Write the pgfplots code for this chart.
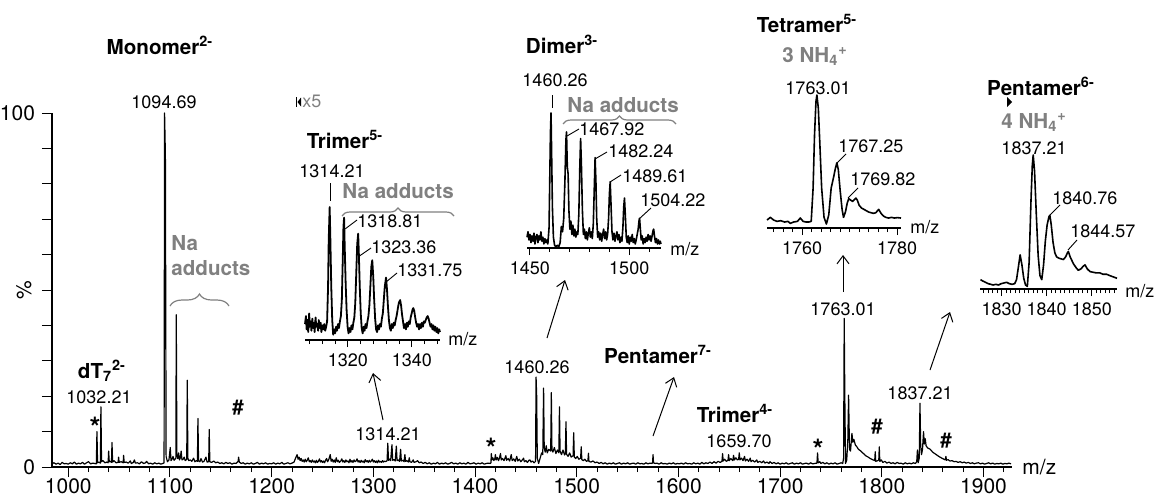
\documentclass[border=0pt]{standalone}
\usepackage{pgfplots}
\pgfplotsset{compat=1.18}
\usepackage{fontspec}
\setmainfont{TeX Gyre Heros}
\usetikzlibrary{decorations.pathreplacing,arrows.meta}
\definecolor{gtxt}{RGB}{128,128,128}
\tikzset{
 num/.style={font=\fontsize{9}{10}\selectfont, inner sep=0pt},
 bl/.style={font=\fontsize{10.3}{12}\selectfont\bfseries, inner sep=0pt},
 gl/.style={bl, text=gtxt},
 star/.style={font=\fontsize{14}{16}\selectfont\bfseries, inner sep=0pt, anchor=base},
 hash/.style={font=\fontsize{10.3}{12}\selectfont\bfseries, inner sep=0pt, anchor=base},
 arr/.style={line width=0.5pt, -{Straight Barb[length=4pt,width=6pt]}},
 lead/.style={line width=0.45pt},
}
\pgfplotsset{
 inset/.style={scale only axis, anchor=south west, ymin=0, ymax=100,
   axis x line=bottom, axis y line=none, axis line style={-, line width=0.6pt},
   clip=false, tick align=outside, major tick length=3.5pt, minor tick length=2pt,
   tick style={black, line width=0.5pt},
   tick label style={font=\fontsize{9}{10}\selectfont},
   /pgf/number format/assume math mode=true, /pgf/number format/1000 sep={}},
}
\begin{document}
\begin{tikzpicture}
% ---------------- main spectrum ----------------
\begin{axis}[at={(26pt,-233.5pt)}, anchor=south west, scale only axis,
  width=480pt, height=177pt, xmin=984, xmax=1928, ymin=0, ymax=100,
  axis x line=bottom, axis y line=left, axis line style={-, line width=0.6pt},
  clip=false, tick align=outside,
  xtick={1000,1100,...,1900}, minor xtick={980,1000,...,1920},
  ytick={0,10,...,100}, yticklabels={0,,,,,,,,,,100},
  major tick length=5pt, minor tick length=2.5pt,
  tick style={black, line width=0.5pt},
  tick label style={font=\fontsize{10.5}{12}\selectfont},
  xticklabel style={yshift=2.5pt},
  /pgf/number format/assume math mode=true, /pgf/number format/1000 sep={}]
\addplot[black, line width=0.6pt, line join=round] coordinates {
(984,0.9)(986,1.2)(988,0.8)(990,1.1)(992,0.7)(994,1.3)(996,0.9)(998,1.0)(1000,0.8)(1002,1.2)
(1004,0.9)(1006,1.4)(1008,0.8)(1010,1.1)(1012,0.9)(1014,1.3)(1016,0.8)(1018,1.2)(1020,1.5)(1022,0.9)
(1024,1.1)(1026,1.0)(1027.6,0.9)(1028.2,10)(1028.8,1.2)(1030,1.4)(1031.6,1.1)(1032.1,17)(1032.7,1.5)(1034,1.8)
(1036,1.2)(1038,1.4)(1039.2,1.2)(1039.7,4.5)(1040.3,1.5)(1041.5,1.6)(1042.5,1.3)(1043,6.9)(1043.6,1.4)(1045,1.8)
(1047,1.2)(1049,1.3)(1049.5,2.8)(1050,1.3)(1052,1.5)(1054,1.2)(1054.4,3.3)(1055,1.3)(1057,1.4)(1059,1.1)
(1061,1.7)(1062,1.0)(1064,1.3)(1065,2.0)(1066,1.1)(1068,1.2)(1070,0.9)(1072,1.5)(1074,1.0)(1076,1.2)
(1077,1.6)(1079,0.9)(1081,1.1)(1083,0.8)(1085,1.2)(1087,0.9)(1089,1.1)(1091,0.8)(1093,1.0)(1094.2,1.2)
(1094.7,100)(1095.5,88)(1096.2,3)(1097.5,1.5)(1099,2.0)(1100.3,5.5)(1101,1.8)(1102,2.2)(1103,3.0)(1104,1.9)
(1105.8,2.5)(1106.2,43)(1106.8,3.5)(1107.6,2.4)(1108.5,4.0)(1109.3,2.0)(1110.2,2.6)(1111,4.5)(1111.8,2.0)(1113,2.2)
(1114,2.8)(1115,1.8)(1116.5,2.2)(1117,24.5)(1117.6,2.5)(1118.5,1.8)(1120,2.0)(1121.5,1.6)(1123.2,2.5)(1124.5,1.5)
(1126,1.8)(1127,1.6)(1127.5,13.7)(1128.1,1.7)(1129.5,1.5)(1130.5,2.4)(1132,1.4)(1133.5,1.6)(1135.4,2.8)(1136.5,1.4)
(1138.1,1.5)(1138.6,10.6)(1139.2,1.5)(1141,1.3)(1143,1.7)(1145,1.2)(1147,1.4)(1149,1.0)(1151,1.2)(1153,0.9)
(1155,1.3)(1157,1.0)(1159,1.2)(1161,0.8)(1163,1.1)(1165,1.0)(1167,1.6)(1167.5,2.8)(1168.2,1.4)(1170,1.0)
(1172,1.2)(1174,0.8)(1176,1.1)(1178,0.9)(1180,1.2)(1182,0.8)(1184,1.0)(1186,1.3)(1188,0.8)(1190,1.1)
(1192,0.9)(1194,1.2)(1196,0.8)(1198,1.0)(1200,0.9)(1202,1.2)(1204,0.8)(1206,1.1)(1208,0.9)(1210,1.3)
(1212,0.8)(1214,1.0)(1216,1.2)(1218,0.9)(1220,1.1)(1222,1.4)(1223.5,2.5)(1225,3.5)(1226,2.2)(1227,2.8)
(1228,1.8)(1229,2.4)(1230,1.6)(1231,2.0)(1232,1.4)(1233,2.2)(1234,1.5)(1235,1.9)(1236,2.6)(1237,1.5)
(1238,1.8)(1239,1.3)(1240,2.0)(1241,1.4)(1242,1.7)(1243,1.2)(1244,1.9)(1245,1.3)(1246,1.6)(1247,2.3)
(1248,1.4)(1249,1.8)(1250,1.3)(1251,1.7)(1252,1.2)(1253,1.9)(1254,2.4)(1255,1.5)(1256,2.0)(1257.6,3.5)
(1258.5,1.6)(1259.5,2.2)(1260.5,1.4)(1261.5,2.0)(1262.5,1.3)(1263.5,2.6)(1264.5,1.5)(1265.5,1.9)(1266.5,1.3)(1268,1.7)
(1269,2.3)(1270,1.4)(1271,1.8)(1272,1.3)(1273,2.0)(1274,1.5)(1275,1.7)(1276,1.2)(1277,2.2)(1278,1.4)
(1279,1.8)(1280,1.3)(1281,2.0)(1282,1.5)(1283,1.7)(1284,2.3)(1285,1.4)(1286,1.8)(1287,1.3)(1288,1.9)
(1289,1.4)(1290,1.7)(1291,1.2)(1292,2.1)(1293,1.5)(1294,1.8)(1295,1.3)(1296,1.9)(1297,1.4)(1298,1.7)
(1299,2.2)(1300,1.4)(1301,1.8)(1302,1.3)(1303,1.7)(1304,1.2)(1305,1.9)(1306,1.4)(1307,1.6)(1308,1.3)
(1309,1.8)(1310,1.4)(1311,1.7)(1312,1.5)(1313.5,1.8)(1314.2,6.7)(1314.9,1.9)(1316,2.2)(1317,1.8)(1318.3,6.3)
(1319,1.9)(1320.5,2.1)(1321.5,1.7)(1322.6,5.9)(1323.3,1.8)(1324.5,2.0)(1325.8,1.6)(1326.8,5.0)(1327.5,1.7)(1329,1.9)
(1330.2,1.5)(1331,3.5)(1331.7,1.6)(1333,1.8)(1334.5,1.4)(1335.3,2.6)(1336,1.5)(1337.5,1.3)(1339.2,2.0)(1340,1.3)
(1342,1.5)(1343.5,1.8)(1345,1.2)(1347,1.4)(1349,1.0)(1351,1.3)(1353,0.9)(1355,1.2)(1357,0.8)(1359,1.1)
(1361,0.9)(1363,1.3)(1365,0.8)(1367,1.1)(1369,0.9)(1371,1.2)(1373,0.8)(1375,1.0)(1377,1.3)(1379,0.9)
(1381,1.1)(1383,0.8)(1385,1.2)(1387,0.9)(1389,1.1)(1391,0.8)(1393,1.3)(1395,0.9)(1397,1.0)(1399,1.2)
(1401,0.8)(1403,1.1)(1405,0.9)(1407,1.2)(1409,0.8)(1411,1.0)(1413,1.1)(1415,1.0)(1415.6,1.2)(1416,3.8)
(1416.6,2.0)(1417.5,2.6)(1418.5,1.8)(1419.5,2.4)(1420,3.5)(1420.7,2.0)(1422,2.7)(1423,1.8)(1424,2.5)(1425,3.8)
(1425.8,2.0)(1427,2.4)(1428.5,1.8)(1429.5,2.6)(1430.3,3.2)(1431,1.9)(1432.5,2.4)(1434,1.7)(1435.6,3.5)(1436.5,1.8)
(1438,2.3)(1439.5,1.6)(1441,3.0)(1442,1.7)(1443.5,2.2)(1445,1.5)(1446.5,2.0)(1447.7,2.5)(1448.5,1.5)(1450,1.8)
(1451.5,1.3)(1453,1.9)(1454,2.0)(1455,1.4)(1456.5,1.7)(1458,1.2)(1459.5,1.6)(1460,25.4)(1460.6,20)(1461.2,2.5)
(1462.5,1.0)(1464,2.5)(1465.5,4.0)(1466.6,3.5)(1467.4,22.3)(1468,5.5)(1469,4.2)(1470,6.0)(1471,4.0)(1472.5,5.0)
(1474.4,4.5)(1475,21)(1475.6,5.0)(1476.5,4.2)(1478,5.5)(1479.5,3.8)(1481,4.8)(1482.4,4.0)(1483,17)(1483.6,4.5)
(1485,3.5)(1486.5,4.8)(1488,3.4)(1488.8,3.8)(1489.4,12.8)(1490,3.6)(1491.5,3.0)(1493,4.0)(1494.5,2.8)(1496.4,3.2)
(1497,9.7)(1497.6,2.8)(1499,2.4)(1500.5,3.0)(1502,2.2)(1503.8,2.5)(1504.4,5.7)(1505,2.1)(1506.5,1.8)(1508,2.2)
(1509.5,1.6)(1511,1.8)(1511.5,3.9)(1512,1.6)(1514,1.4)(1516,1.7)(1518,1.2)(1520,1.4)(1522,1.0)(1524,1.3)
(1526,0.9)(1528,1.2)(1530,0.8)(1532,1.1)(1534,0.9)(1536,1.2)(1538,0.8)(1540,1.0)(1542,1.2)(1544,0.8)
(1546,1.1)(1548,0.9)(1550,1.2)(1552,0.8)(1554,1.0)(1556,1.1)(1558,0.8)(1560,1.2)(1562,0.9)(1564,1.0)
(1566,0.8)(1568,1.2)(1570,0.9)(1572,1.1)(1574,1.0)(1574.6,1.3)(1575,3.5)(1575.5,1.2)(1577,1.0)(1579,1.1)
(1581,0.8)(1583,1.2)(1585,0.9)(1587,1.0)(1589,0.8)(1591,1.1)(1593,0.9)(1595,1.2)(1597,0.8)(1599,1.0)
(1601,0.9)(1603,1.1)(1605,0.8)(1607,1.2)(1609,0.9)(1611,1.0)(1613,0.8)(1615,1.2)(1617,0.9)(1619,1.1)
(1621,0.8)(1623,1.3)(1625,0.9)(1627,1.2)(1629,1.0)(1631,1.4)(1633,1.0)(1635,1.5)(1637,1.1)(1639,1.6)
(1641,1.3)(1642.8,1.6)(1643.4,3.8)(1644,1.7)(1645.5,2.2)(1647,1.6)(1648.7,1.9)(1649.3,3.5)(1650,1.8)(1651.5,2.4)
(1653.5,1.8)(1654.2,3.3)(1655,2.0)(1656.5,2.6)(1658,2.0)(1659.2,2.2)(1659.8,4.0)(1660.5,2.0)(1662,2.5)(1663.5,1.8)
(1665,3.0)(1665.8,1.7)(1667.5,2.2)(1669,1.6)(1670.6,2.5)(1671.4,1.5)(1673,1.9)(1675,1.4)(1677,2.0)(1678,1.3)
(1680,1.6)(1682,1.2)(1683.7,1.7)(1685,1.1)(1687,1.4)(1689,1.0)(1690,1.5)(1692,1.0)(1694,1.3)(1696,0.9)
(1698,1.2)(1700,0.8)(1702,1.1)(1704,0.9)(1706,1.2)(1708,0.8)(1710,1.0)(1712,1.2)(1714,0.8)(1716,1.1)
(1718,0.9)(1720,1.2)(1722,0.8)(1724,1.0)(1726,1.1)(1728,0.8)(1730,1.2)(1732,0.9)(1734,1.0)(1736.2,1.1)
(1736.8,4.0)(1737.4,1.2)(1739,1.5)(1740,1.0)(1742,1.3)(1744,0.9)(1746,1.2)(1748,0.8)(1750,1.1)(1752,0.9)
(1754,1.2)(1756,0.8)(1758,1.0)(1760,1.2)(1761.5,1.0)(1762.4,2.5)(1763,42)(1763.6,20)(1764.3,1.0)(1765.5,2.0)
(1766.6,8.0)(1767.3,20.3)(1768.2,5.0)(1769.2,4.5)(1770.6,9.5)(1771.5,7.0)(1772.5,7.8)(1774,6.2)(1775.5,5.7)(1777,5.0)
(1779,4.6)(1781,4.0)(1782,3.8)(1784,3.2)(1786,2.9)(1788.6,2.4)(1790,2.2)(1791.5,2.0)(1793,1.8)(1793.5,4.3)
(1794,1.6)(1796,1.8)(1797,2.0)(1797.5,5.7)(1798,1.6)(1799.5,2.0)(1801,1.3)(1803,1.6)(1805,1.1)(1807,1.4)
(1809,1.0)(1811,1.2)(1813,0.9)(1815,1.3)(1817,1.0)(1819,1.1)(1821,0.8)(1823,1.2)(1825,0.9)(1827,1.1)
(1829,0.9)(1831,1.2)(1833,1.0)(1834.3,1.5)(1835,4.8)(1835.7,1.2)(1836.8,2.5)(1837.5,18)(1838.2,6.0)(1839,3.5)
(1840,5.0)(1841,10)(1841.8,6.5)(1842.7,8.0)(1843.5,6.0)(1845,5.4)(1847.6,5.0)(1850,4.2)(1852,3.8)(1854,3.4)
(1856,3.0)(1859,2.5)(1861,2.2)(1862.5,2.0)(1863,3.0)(1863.6,1.9)(1865,2.1)(1867,1.7)(1869,1.8)(1871,1.5)
(1873,1.6)(1875,1.3)(1877,1.5)(1879,1.2)(1881,1.4)(1883,1.1)(1885,1.3)(1887,1.0)(1889,1.2)(1891,0.9)
(1893,1.1)(1895,1.2)(1897,0.9)(1899,1.1)(1901,0.8)(1903,1.0)(1905,1.2)(1907,0.9)(1909,1.1)(1911,0.8)
(1913,1.0)(1915,0.9)(1917,1.1)(1919,0.8)(1921,1.0)(1923,0.9)(1925,1.1)(1927,0.9)
};
\end{axis}
% ---------------- inset: Trimer 5- ----------------
\begin{axis}[inset, at={(152.5pt,-170pt)}, width=67.5pt, height=66.5pt,
  xmin=1306.6, xmax=1348.75, xtick={1320,1340}, minor xtick={1308,1312,...,1348}]
\addplot[black, line width=0.9pt, line join=round] coordinates {
(1306.6,12)(1306.9,18)(1307.1,8)(1307.4,15)(1307.6,6)(1307.9,20)(1308.1,10)(1308.4,14)(1308.6,7)(1308.9,16)
(1309.1,9)(1309.4,13)(1309.6,6)(1309.9,17)(1310.1,10)(1310.4,12)(1310.7,7)(1310.9,15)(1311.2,9)(1311.5,13)
(1311.7,6)(1312,11)(1312.3,8)(1312.6,12)(1312.9,7)(1313.2,10)(1313.5,14)(1313.8,40)(1314.0,75)(1314.3,100)
(1314.5,78)(1314.8,40)(1315.1,15)(1315.4,4)(1315.7,8)(1316,5)(1316.3,10)(1316.6,7)(1316.9,12)(1317.2,9)
(1317.5,14)(1317.8,18)(1318.1,30)(1318.4,62)(1318.6,85)(1318.8,92)(1319.0,70)(1319.3,42)(1319.6,22)(1319.9,10)
(1320.2,5)(1320.5,9)(1320.8,6)(1321.1,11)(1321.4,8)(1321.7,13)(1322.0,17)(1322.3,28)(1322.6,50)(1322.9,72)
(1323.2,80)(1323.4,66)(1323.7,40)(1324,20)(1324.3,9)(1324.6,5)(1324.9,10)(1325.2,7)(1325.5,12)(1325.8,9)
(1326.1,14)(1326.4,18)(1326.7,26)(1327,40)(1327.3,55)(1327.6,60)(1327.9,48)(1328.2,30)(1328.5,16)(1328.8,8)
(1329.1,6)(1329.4,11)(1329.7,8)(1330,12)(1330.3,10)(1330.6,16)(1330.9,20)(1331.2,30)(1331.5,40)(1331.9,47)
(1332.2,38)(1332.5,25)(1332.8,15)(1333.1,9)(1333.4,7)(1333.7,12)(1334,9)(1334.3,13)(1334.6,11)(1334.9,15)
(1335.2,18)(1335.6,24)(1335.9,28)(1336.3,30)(1336.6,26)(1336.9,19)(1337.2,14)(1337.5,9)(1337.8,12)(1338.1,8)
(1338.4,13)(1338.7,10)(1339,14)(1339.3,12)(1339.6,17)(1339.9,20)(1340.2,23)(1340.4,24)(1340.7,22)(1341,17)
(1341.3,13)(1341.6,10)(1341.9,12)(1342.2,8)(1342.5,12)(1342.8,9)(1343.1,13)(1343.4,10)(1343.7,14)(1344,13)
(1344.3,15)(1344.6,17)(1344.9,18)(1345.2,16)(1345.5,13)(1345.8,10)(1346.1,12)(1346.4,8)(1346.7,11)(1347,7)
(1347.3,10)(1347.6,6)(1347.9,9)(1348.2,5)(1348.5,8)(1348.75,6)
};
\end{axis}
% ---------------- inset: Dimer 3- ----------------
\begin{axis}[inset, at={(263.5pt,-124pt)}, width=67pt, height=67.5pt,
  xmin=1448.5, xmax=1516, xtick={1450,1500}, minor xtick={1450,1460,...,1510}]
\addplot[black, line width=0.8pt, line join=round] coordinates {
(1448.5,8)(1449,12)(1449.5,6)(1450,10)(1450.5,4)(1451,9)(1451.5,5)(1452,11)(1452.5,3)(1453,8)
(1453.5,10)(1454,4)(1454.5,9)(1455,6)(1455.5,12)(1456,5)(1456.5,8)(1457,3)(1457.5,7)(1458,4)
(1458.5,6)(1459,3)(1459.6,15)(1460,55)(1460.3,85)(1460.6,100)(1460.9,70)(1461.3,30)(1461.8,8)(1462.4,2)
(1463,1)(1463.8,2)(1464.5,1)(1465.2,4)(1465.8,16)(1466.4,12)(1467,22)(1467.6,50)(1468.1,80)(1468.4,86)
(1468.8,60)(1469.2,55)(1469.6,28)(1470.1,14)(1470.6,20)(1471.1,10)(1471.6,17)(1472.1,9)(1472.6,14)(1473.1,8)
(1473.6,12)(1474.1,10)(1474.6,25)(1475.1,60)(1475.5,81)(1475.9,62)(1476.4,28)(1476.9,10)(1477.4,14)(1477.9,7)
(1478.4,12)(1478.9,6)(1479.4,11)(1479.9,15)(1480.4,8)(1480.9,12)(1481.4,7)(1481.9,18)(1482.4,45)(1482.8,67)
(1483.2,50)(1483.6,22)(1484.1,8)(1484.6,12)(1485.1,6)(1485.6,11)(1486.1,5)(1486.6,10)(1487.1,14)(1487.6,7)
(1488.1,12)(1488.6,6)(1489.1,10)(1489.6,22)(1490,40)(1490.4,49)(1490.8,33)(1491.3,12)(1491.8,6)(1492.3,11)
(1492.8,5)(1493.3,9)(1493.8,12)(1494.3,6)(1494.8,10)(1495.3,4)(1495.8,8)(1496.3,5)(1496.8,15)(1497.2,30)
(1497.6,37)(1498,25)(1498.5,8)(1499,4)(1499.5,9)(1500,3)(1500.5,8)(1501,5)(1501.5,10)(1502,4)
(1502.5,7)(1503,3)(1503.5,6)(1504,10)(1504.5,14)(1504.9,20)(1505.2,22)(1505.6,14)(1506,6)(1506.5,9)
(1507,3)(1507.5,7)(1508,4)(1508.5,8)(1509,5)(1509.5,10)(1510,6)(1510.5,9)(1511,5)(1511.5,9)
(1512,13)(1512.3,14)(1512.7,9)(1513.2,4)(1513.7,7)(1514.2,3)(1514.7,6)(1515.2,3)(1515.6,5)(1516,3)
};
\end{axis}
% ---------------- inset: Tetramer 5- ----------------
\begin{axis}[inset, at={(383.5pt,-114pt)}, width=67pt, height=66.5pt,
  xmin=1752.6, xmax=1780.8, xtick={1760,1780}, minor xtick={1754,1756,...,1780}]
\addplot[black, line width=0.8pt, line join=round] coordinates {
(1752.6,6)(1753.3,8)(1754,6)(1754.7,5)(1755.5,5.5)(1756.3,4.5)(1757,5)(1757.5,3.5)(1758.2,4.5)(1759,5)
(1759.6,7.5)(1760.2,5)(1760.8,4.5)(1761.4,4.5)(1761.9,5)(1762.3,30)(1762.6,70)(1762.9,95)(1763.1,100)(1763.4,90)
(1763.7,65)(1764.1,30)(1764.6,8)(1765.1,3)(1765.6,10)(1766.1,30)(1766.6,38)(1767,45)(1767.3,49)(1767.6,44)
(1768,28)(1768.4,14)(1768.7,8)(1769.1,12)(1769.5,19)(1769.8,22)(1770.2,21)(1770.6,20)(1770.9,21)(1771.3,22.5)
(1771.6,21)(1772,17)(1772.5,15)(1773,14)(1773.5,13)(1774,12)(1774.5,11.5)(1775,11)(1775.5,11.5)(1776.1,14)
(1776.6,11)(1777.1,9)(1777.6,8)(1778.2,7.5)(1778.8,8)(1779.4,7.5)(1780,7.8)(1780.8,7.5)
};
\end{axis}
% ---------------- inset: Pentamer 6- ----------------
\begin{axis}[inset, at={(490pt,-144.5pt)}, width=68.5pt, height=67pt,
  xmin=1825.2, xmax=1855.6, xtick={1830,1840,1850}, minor xtick={1826,1827,...,1855}]
\addplot[black, line width=0.8pt, line join=round] coordinates {
(1825.3,7)(1825.8,6)(1826.4,5)(1827,4)(1827.6,3.5)(1828.1,3)(1828.7,3.5)(1829.3,3)(1829.9,4)(1830.5,4.5)
(1831.1,5)(1831.7,4)(1832.3,3.5)(1832.9,4)(1833.3,7)(1833.7,16)(1834.1,25.5)(1834.5,18)(1834.9,8)(1835.3,3)
(1835.7,2)(1836.1,20)(1836.5,65)(1836.8,92)(1837,100)(1837.3,88)(1837.7,55)(1838.1,25)(1838.5,10)(1838.9,7)
(1839.3,18)(1839.7,36)(1840.1,48)(1840.5,54)(1840.7,55)(1841,48)(1841.4,35)(1841.8,27)(1842.2,24)(1842.7,23)
(1843.2,22.5)(1843.7,22)(1844.2,24)(1844.6,27)(1844.8,28)(1845.2,24)(1845.9,19)(1846.5,16)(1847,14)(1847.6,15)
(1848.1,17)(1848.5,18)(1849,15)(1849.6,13)(1850.3,12.5)(1851,12)(1851.8,12)(1852.5,11)(1853.3,11)(1854,10)
(1854.8,9)(1855.6,8)
};
\end{axis}
% ---------------- annotations (pixel grid of the reference) ----------------
\begin{scope}[x=0.5pt, y=-0.5pt]
\node[rotate=90, font=\fontsize{10.5}{12}\selectfont] at (24,290) {\%};
% main labels
\node[bl, anchor=base] at (102,378) {dT\textsubscript{7}\textsuperscript{2-}};
\node[num, anchor=base] at (99,403) {1032.21};
\node[star] at (95,437) {*};
\node[bl, anchor=base] at (160,54) {Monomer\textsuperscript{2-}};
\node[num, anchor=base] at (164,108) {1094.69};
\node[gl, anchor=base west] at (171,250) {Na};
\node[gl, anchor=base west] at (171,275) {adducts};
\draw[gtxt, line width=0.6pt, decorate, decoration={brace, amplitude=6pt}] (170,306) -- (229,306);
\draw[line width=0.6pt] (296.5,97) -- (296.5,107);
\fill (297.5,102) -- (301,97.5) -- (301,106.5) -- cycle;
\node[num, text=gtxt, anchor=base west] at (302,107) {x5};
\node[num, anchor=base] at (388,440) {1314.21};
\draw[arr] (383,420) -- (373,373);
\node[num, anchor=base] at (537,373) {1460.26};
\draw[arr] (547,338) -- (565,280);
\node[star] at (491,458) {*};
\node[bl, anchor=base] at (658,363) {Pentamer\textsuperscript{7-}};
\draw[arr] (653,436) -- (674,377);
\node[bl, anchor=base] at (735,422) {Trimer\textsuperscript{4-}};
\node[num, anchor=base] at (739,447) {1659.70};
\node[star] at (818,459) {*};
\node[num, anchor=base] at (843,315) {1763.01};
\draw[arr] (843,292) -- (843,255);
\node[hash] at (877,433) {\#};
\node[num, anchor=base] at (920,399) {1837.21};
\draw[arr] (930,370) -- (950,312);
\node[hash] at (946,447) {\#};
\node[hash] at (238,414) {\#};
\node[num, font=\fontsize{10.5}{12}\selectfont, anchor=base west] at (1022,474) {m/z};
% trimer inset
\node[bl, anchor=base] at (345,148) {Trimer\textsuperscript{5-}};
\node[num, anchor=base] at (332,177) {1314.21};
\draw[line width=0.5pt] (330,183) -- (330,201);
\node[gl, anchor=base west] at (342,198) {Na adducts};
\draw[gtxt, line width=0.6pt, decorate, decoration={brace, amplitude=4pt}] (342,216) -- (454,216);
\node[num, anchor=base west] at (357,227) {1318.81};
\draw[lead] (345,229) -- (357,220);
\node[num, anchor=base west] at (371,253) {1323.36};
\draw[lead] (358,257) -- (371,248);
\node[num, anchor=base west] at (397,276) {1331.75};
\draw[lead] (386,282) -- (397,273);
\node[num, anchor=base west] at (448,345) {m/z};
% dimer inset
\node[bl, anchor=base] at (562,53) {Dimer\textsuperscript{3-}};
\node[num, anchor=base] at (555,86) {1460.26};
\draw[line width=0.5pt] (552,95) -- (552,108);
\node[gl, anchor=base west] at (567,112) {Na adducts};
\draw[gtxt, line width=0.6pt, decorate, decoration={brace, amplitude=4pt}] (563,124) -- (676,124);
\node[num, anchor=base west] at (579,135) {1467.92};
\draw[lead] (567,136) -- (579,129);
\node[num, anchor=base west] at (608,157) {1482.24};
\draw[lead] (595,159) -- (607,152);
\node[num, anchor=base west] at (622,182) {1489.61};
\draw[lead] (610,182) -- (621,175);
\node[num, anchor=base west] at (640,206) {1504.22};
\draw[lead] (639,219) -- (651,208);
\node[num, anchor=base west] at (670,255) {m/z};
% tetramer inset
\node[bl, anchor=base] at (807,32) {Tetramer\textsuperscript{5-}};
\node[gl, anchor=base] at (815,62) {3 NH\textsubscript{4}\textsuperscript{+}};
\node[num, anchor=base] at (818,94) {1763.01};
\node[num, anchor=base west] at (838,152) {1767.25};
\draw[lead] (837,163) -- (846,154);
\node[num, anchor=base west] at (850,185) {1769.82};
\draw[lead] (848,198) -- (858,188);
\node[num, anchor=base west] at (910,233) {m/z};
% pentamer inset
\node[bl, anchor=base] at (1041,95) {Pentamer\textsuperscript{6-}};
\fill (1007,97) -- (1007,107) -- (1012,102) -- cycle;
\node[gl, anchor=base] at (1034,128) {4 NH\textsubscript{4}\textsuperscript{+}};
\node[num, anchor=base] at (1034,154) {1837.21};
\node[num, anchor=base west] at (1052,204) {1840.76};
\draw[lead] (1050,215) -- (1060,205);
\node[num, anchor=base west] at (1070,237) {1844.57};
\draw[lead] (1068,250) -- (1077,240);
\node[num, anchor=base west] at (1125,297) {m/z};
\end{scope}
\pgfresetboundingbox
\path (0pt,0pt) rectangle (577pt,-249.5pt);
\end{tikzpicture}
\end{document}
